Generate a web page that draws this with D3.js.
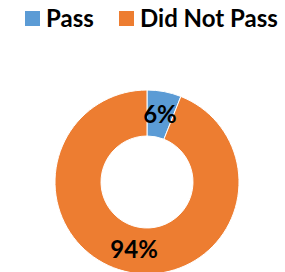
<!DOCTYPE html>
<html>
<head>
<meta charset="utf-8">
<script src="https://cdn.jsdelivr.net/npm/d3@7"></script>
<style>
  body { margin: 0; background: #fff; }
  text { font-family: Lato, "Open Sans", sans-serif; font-weight: bold; }
</style>
</head>
<body>
<div id="chart"></div>
<script>
// chart data
const categories = ["Pass", "Did Not Pass"];
const values = [6, 94];
const colors = ["#5B9BD5", "#ED7D31"];

const width = 285, height = 272;
const cx = 147, cy = 182;
const outerR = 92, innerR = 46;

const svg = d3.select("#chart").append("svg")
  .attr("width", width)
  .attr("height", height);

// legend
const legendX = [25, 119];
const legend = svg.append("g");
categories.forEach(function (c, i) {
  const g = legend.append("g").attr("transform", "translate(" + legendX[i] + ",11)");
  g.append("rect")
    .attr("width", 15)
    .attr("height", 15)
    .attr("fill", colors[i]);
  g.append("text")
    .attr("x", 21)
    .attr("y", 16)
    .style("font-size", "24px")
    .text(c);
});

// donut
const pie = d3.pie().sort(null).value(function (d) { return d; });
const arc = d3.arc().innerRadius(innerR).outerRadius(outerR);

const g = svg.append("g").attr("transform", "translate(" + cx + "," + cy + ")");

g.selectAll("path")
  .data(pie(values))
  .enter().append("path")
  .attr("d", arc)
  .attr("fill", function (d, i) { return colors[i]; })
  .attr("stroke", "#fff")
  .attr("stroke-width", 1);

g.selectAll("text.lbl")
  .data(pie(values))
  .enter().append("text")
  .attr("class", "lbl")
  .attr("transform", function (d) { return "translate(" + arc.centroid(d) + ")"; })
  .attr("text-anchor", "middle")
  .attr("dy", "0.36em")
  .style("font-size", "24px")
  .text(function (d) { return d.data + "%"; });
</script>
</body>
</html>
